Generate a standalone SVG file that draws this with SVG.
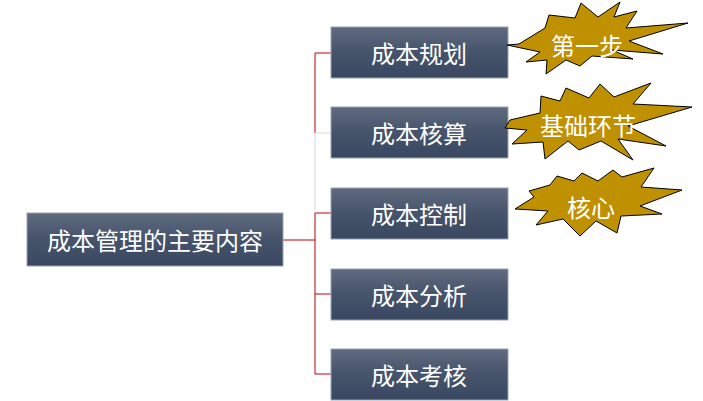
<svg xmlns="http://www.w3.org/2000/svg" width="703" height="401" viewBox="0 0 703 401">
<defs>
<linearGradient id="g" x1="0" y1="0" x2="0" y2="1"><stop offset="0" stop-color="#5f6a7e"/><stop offset="0.5" stop-color="#45536b"/><stop offset="1" stop-color="#3a4760"/></linearGradient>
</defs>
<style>
.b{fill:url(#g);stroke:#9aa3b0;stroke-width:1}
.t{fill:#fff;font-family:"Noto Sans CJK SC",sans-serif;font-size:24px;text-anchor:middle;dominant-baseline:central}
.s{fill:#bf9000;stroke:#000;stroke-width:1}
.r{stroke:#c00000;stroke-width:1;fill:none}
.w{stroke:#d9d9d9;stroke-width:1;fill:none}
</style>
<g id="connectors">
<path class="r" d="M283 240H315M315 53V133M315 213V374M315 53H331M315 213H331M315 294H331M315 374H331"/>
<path class="w" d="M315 133V213M315 133H331"/>
</g>
<g id="root"><rect class="b" x="27" y="213" width="256" height="53"/><text class="t" x="155" y="239">成本管理的主要内容</text></g>
<g id="n1"><rect class="b" x="331" y="27" width="177" height="51"/><text class="t" x="419" y="52">成本规划</text></g>
<g id="n2"><rect class="b" x="331" y="107" width="177" height="51"/><text class="t" x="419" y="132">成本核算</text></g>
<g id="n3"><rect class="b" x="331" y="188" width="177" height="51"/><text class="t" x="419" y="213">成本控制</text></g>
<g id="n4"><rect class="b" x="331" y="269" width="177" height="51"/><text class="t" x="419" y="294">成本分析</text></g>
<g id="n5"><rect class="b" x="331" y="349" width="177" height="51"/><text class="t" x="419" y="374">成本考核</text></g>
<g id="s1"><polygon class="s" points="545,28 519,44 507,45 540,52 526,62 547,60 546,74 566,60 580,66 592,56 633,59 612,50 663,54 629,41 688,23 626,28 637,11 614,17 620,2 598,17 581,3 575,18 549,15"/><text class="t" x="587" y="44">第一步</text></g>
<g id="s2"><polygon class="s" points="540,113 510,120 505,128 527,130 512,144 543,142 545,159 568,141 579,150 601,141 633,160 618,139 666,146 628,126 692,107 633,104 651,83 614,97 600,84 589,98 566,88 560,101 541,96"/><text class="t" x="588" y="124">基础环节</text></g>
<g id="s3"><polygon class="s" points="550,185 529,191 534,197 515,209 548,211 536,225 563,219 580,236 596,221 617,233 621,216 662,214 640,206 682,190 641,187 654,168 622,177 613,170 598,181 582,173 574,181 557,176"/><text class="t" x="591" y="206">核心</text></g>
</svg>
